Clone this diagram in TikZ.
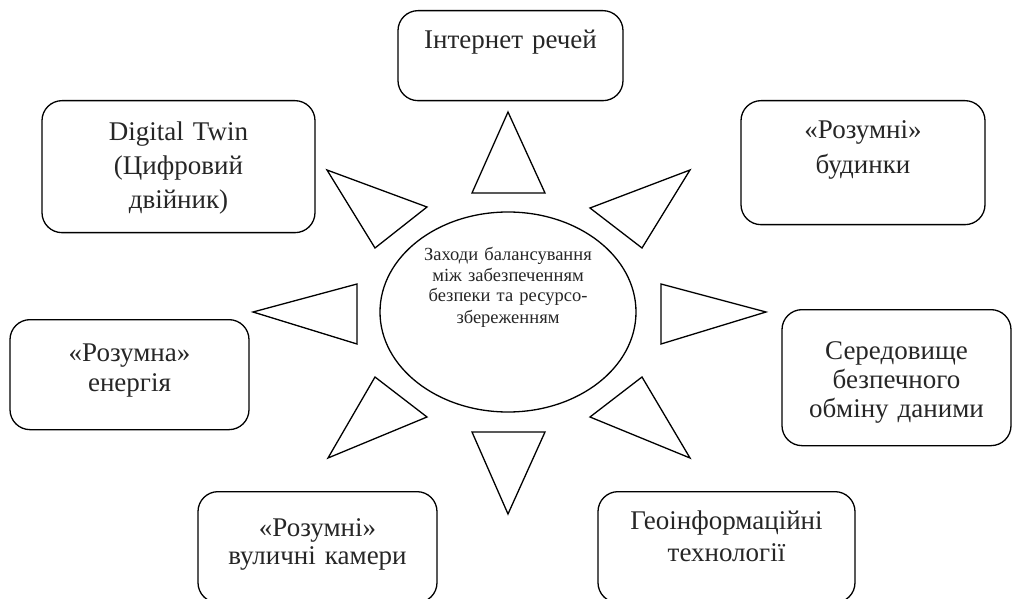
\documentclass[tikz,border=0pt]{standalone}
\usepackage{fontspec}
\setmainfont{Liberation Serif}
\usetikzlibrary{shapes.geometric}
\tikzset{
  topic/.style={draw, rounded corners=20pt, line width=1.3pt, anchor=north,
                align=center, inner sep=0pt, text=black!85,
                font=\fontsize{27}{#1}\selectfont},
  topic/.default=32,
  core/.style={draw, ellipse, line width=1.3pt, inner sep=0pt, align=center,
               text=black!85, font=\fontsize{18.5}{21}\selectfont},
  ray/.style={draw, line width=1.3pt, line join=miter},
}

\begin{document}
\begin{tikzpicture}[x=1pt, y=-1pt]
  \useasboundingbox (0,0) rectangle (1013,599);
  % centre
  \node[core, minimum width=256pt, minimum height=200pt, text width=180pt,
        text height=14pt, text depth=118pt] (centre) at (508,312)
    {Заходи балансування\\між забезпеченням\\безпеки та ресурсо-\\збереженням};
  % topics round the centre
  \node[topic, minimum width=225pt, text width=215pt, text height=38pt, text depth=52pt]
    (iot) at (510.5,10) {Інтернет речей};
  \node[topic=34, minimum width=273pt, text width=263pt, text height=40pt, text depth=92pt]
    (twin) at (178.5,100) {Digital Twin\\(Цифровий\\двійник)};
  \node[topic=35, minimum width=244pt, text width=234pt, text height=38pt, text depth=86pt]
    (home) at (863,100) {«Розумні»\\будинки};
  \node[topic=30, minimum width=239pt, text width=229pt, text height=42pt, text depth=68pt]
    (energy) at (129.5,319) {«Розумна»\\енергія};
  \node[topic=29, minimum width=229pt, text width=219pt, text height=50pt, text depth=86pt]
    (data) at (896.5,309) {Середовище\\безпечного\\обміну даними};
  \node[topic=28, minimum width=239pt, text width=229pt, text height=45pt, text depth=66pt]
    (camera) at (317.5,491) {«Розумні»\\вуличні камери};
  \node[topic=32, minimum width=257pt, text width=247pt, text height=38pt, text depth=73pt]
    (geo) at (726.5,491) {Геоінформаційні\\технології};
  % rays
  \draw[ray] (508,112) -- (472,193) -- (545,193) -- cycle;
  \draw[ray] (508,514) -- (472,432) -- (545,432) -- cycle;
  \draw[ray] (253,312) -- (357,284) -- (357,344) -- cycle;
  \draw[ray] (766,312) -- (661,284) -- (661,344) -- cycle;
  \draw[ray] (327,170) -- (427,207) -- (375,248) -- cycle;
  \draw[ray] (690,170) -- (590,208) -- (642,248) -- cycle;
  \draw[ray] (328,458) -- (427,417) -- (375,377) -- cycle;
  \draw[ray] (690,458) -- (590,417) -- (642,377) -- cycle;
\end{tikzpicture}
\end{document}
